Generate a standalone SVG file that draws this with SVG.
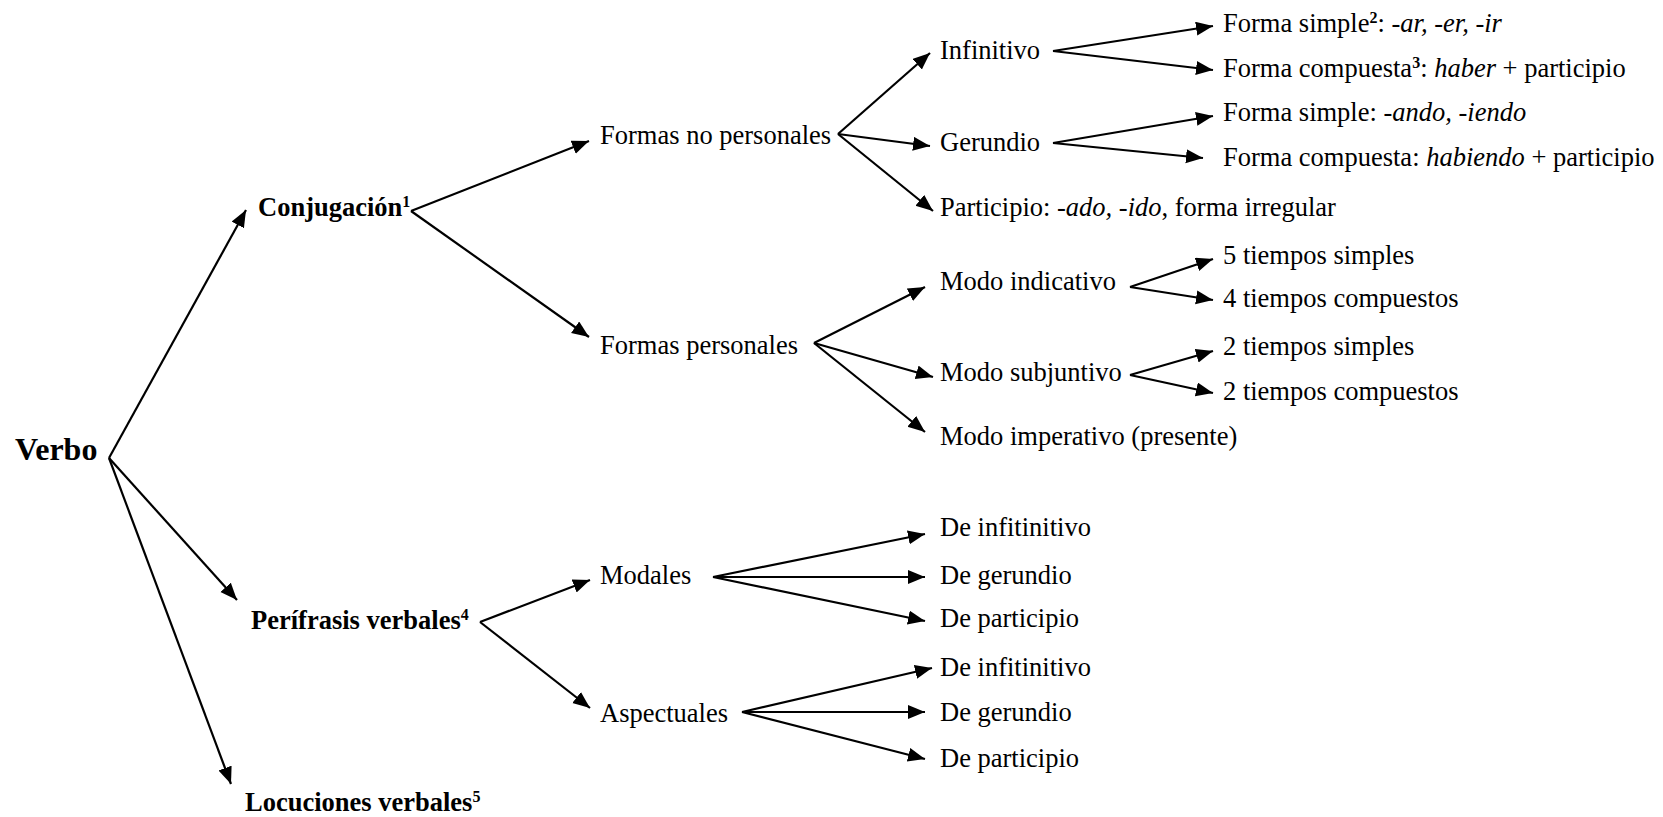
<svg xmlns="http://www.w3.org/2000/svg" width="1663" height="817" viewBox="0 0 1663 817">
<style>
text{font-family:"Liberation Serif","Times New Roman",serif;font-size:26.5px;fill:#000}
.b{font-weight:bold}
.v{font-size:32px;font-weight:bold}
.i{font-style:italic}
.sup{font-size:16px;font-weight:bold}
.c line{stroke:#000;stroke-width:2.2;marker-end:url(#ah)}
</style>
<defs>
<marker id="ah" markerUnits="userSpaceOnUse" markerWidth="19" markerHeight="16" refX="17" refY="7" orient="auto">
<path d="M0,0 L17,7 L0,14 z" fill="#000"/>
</marker>
</defs>
<rect width="1663" height="817" fill="#fff"/>
<g class="c" id="connectors">
<line x1="109" y1="458" x2="246" y2="210"/>
<line x1="109" y1="458" x2="237" y2="600"/>
<line x1="109" y1="458" x2="231" y2="784"/>
<line x1="411" y1="211" x2="589" y2="141"/>
<line x1="411" y1="211" x2="589" y2="337"/>
<line x1="838" y1="134" x2="930" y2="53"/>
<line x1="838" y1="134" x2="930" y2="146"/>
<line x1="838" y1="134" x2="933" y2="211"/>
<line x1="1053" y1="51" x2="1213" y2="26"/>
<line x1="1053" y1="51" x2="1213" y2="70"/>
<line x1="1053" y1="143" x2="1213" y2="116"/>
<line x1="1053" y1="143" x2="1203" y2="158"/>
<line x1="814" y1="343" x2="925" y2="287"/>
<line x1="814" y1="343" x2="933" y2="377"/>
<line x1="814" y1="343" x2="925" y2="432"/>
<line x1="1130" y1="287" x2="1213" y2="259"/>
<line x1="1130" y1="287" x2="1213" y2="300"/>
<line x1="1130" y1="375" x2="1213" y2="351"/>
<line x1="1130" y1="375" x2="1213" y2="393"/>
<line x1="480" y1="622" x2="590" y2="580"/>
<line x1="480" y1="622" x2="590" y2="708"/>
<line x1="713" y1="577" x2="925" y2="534"/>
<line x1="713" y1="577" x2="925" y2="577"/>
<line x1="713" y1="577" x2="925" y2="621"/>
<line x1="742" y1="712" x2="932" y2="668"/>
<line x1="742" y1="712" x2="925" y2="712"/>
<line x1="742" y1="712" x2="925" y2="759"/>
</g>
<g id="verbo"><text class="v" x="15" y="460">Verbo</text></g>
<g id="conjugacion"><text class="b" x="258" y="216">Conjugación<tspan class="sup" dy="-9">1</tspan></text></g>
<g id="perifrasis"><text class="b" x="251" y="629">Perífrasis verbales<tspan class="sup" dy="-9">4</tspan></text></g>
<g id="locuciones"><text class="b" x="245" y="811">Locuciones verbales<tspan class="sup" dy="-9">5</tspan></text></g>
<g id="formas-no-personales"><text x="600" y="144">Formas no personales</text></g>
<g id="formas-personales"><text x="600" y="354">Formas personales</text></g>
<g id="modales"><text x="600" y="584">Modales</text></g>
<g id="aspectuales"><text x="600" y="722">Aspectuales</text></g>
<g id="infinitivo"><text x="940" y="59">Infinitivo</text></g>
<g id="gerundio"><text x="940" y="151">Gerundio</text></g>
<g id="participio"><text x="940" y="216">Participio: <tspan class="i">-ado, -ido</tspan>, forma irregular</text></g>
<g id="modo-indicativo"><text x="940" y="290">Modo indicativo</text></g>
<g id="modo-subjuntivo"><text x="940" y="381">Modo subjuntivo</text></g>
<g id="modo-imperativo"><text x="940" y="445">Modo imperativo (presente)</text></g>
<g id="inf-simple"><text x="1223" y="32">Forma simple<tspan class="sup" dy="-9">2</tspan><tspan dy="9">: </tspan><tspan class="i">-ar, -er, -ir</tspan></text></g>
<g id="inf-compuesta"><text x="1223" y="77">Forma compuesta<tspan class="sup" dy="-9">3</tspan><tspan dy="9">: </tspan><tspan class="i">haber</tspan> + participio</text></g>
<g id="ger-simple"><text x="1223" y="121">Forma simple: <tspan class="i">-ando, -iendo</tspan></text></g>
<g id="ger-compuesta"><text x="1223" y="166">Forma compuesta: <tspan class="i">habiendo</tspan> + participio</text></g>
<g id="ind-simples"><text x="1223" y="264">5 tiempos simples</text></g>
<g id="ind-compuestos"><text x="1223" y="307">4 tiempos compuestos</text></g>
<g id="sub-simples"><text x="1223" y="355">2 tiempos simples</text></g>
<g id="sub-compuestos"><text x="1223" y="400">2 tiempos compuestos</text></g>
<g id="mod-inf"><text x="940" y="536">De infitinitivo</text></g>
<g id="mod-ger"><text x="940" y="584">De gerundio</text></g>
<g id="mod-part"><text x="940" y="627">De participio</text></g>
<g id="asp-inf"><text x="940" y="676">De infitinitivo</text></g>
<g id="asp-ger"><text x="940" y="721">De gerundio</text></g>
<g id="asp-part"><text x="940" y="767">De participio</text></g>
</svg>
